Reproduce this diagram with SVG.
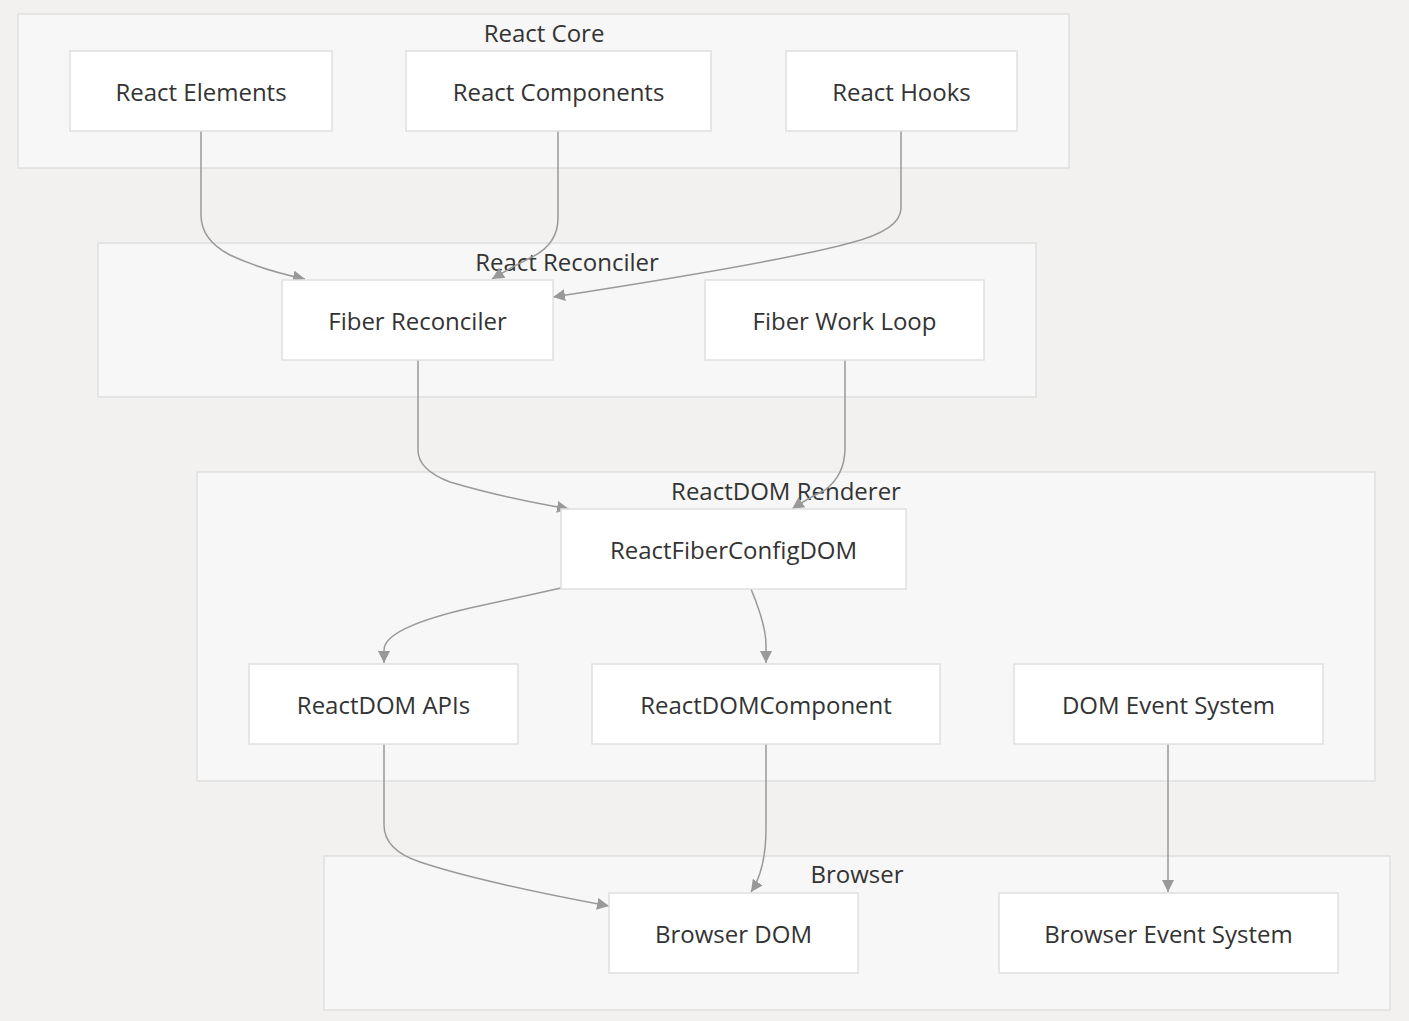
<svg xmlns="http://www.w3.org/2000/svg" width="1409" height="1021" viewBox="0 0 1409 1021">
<style>
.bg{fill:#f2f1f0}
.cl{fill:#f7f7f7;stroke:#e0e0e0;stroke-width:1.5}
.nd{fill:#ffffff;stroke:#e0e0e0;stroke-width:1.5}
text{font-family:"Open Sans","Noto Sans","Liberation Sans",sans-serif;fill:#333;font-size:24px;text-anchor:middle;dominant-baseline:central}
.ed{fill:none;stroke:#999;stroke-width:1.5;marker-end:url(#ah)}
</style>
<defs>
<marker id="ah" markerUnits="userSpaceOnUse" markerWidth="14" markerHeight="12" refX="12" refY="6" orient="auto">
<path d="M0,0 L12,6 L0,12 z" fill="#999"/>
</marker>
</defs>
<rect class="bg" x="0" y="0" width="1409" height="1021"/>
<g id="cluster-react-core"><rect class="cl" x="18" y="14" width="1051" height="154"/><text x="544" y="32">React Core</text></g>
<g id="cluster-react-reconciler"><rect class="cl" x="98" y="243" width="938" height="154"/><text x="567" y="261">React Reconciler</text></g>
<g id="cluster-reactdom-renderer"><rect class="cl" x="197" y="472" width="1178" height="309"/><text x="786" y="490">ReactDOM Renderer</text></g>
<g id="cluster-browser"><rect class="cl" x="324" y="856" width="1066" height="154"/><text x="857" y="873">Browser</text></g>
<g id="edges">
<path class="ed" d="M201,131 L201,215 Q201,240 230,255 Q262,270 305,279"/>
<path class="ed" d="M558,131 L558,218 Q558,245 530,258 Q510,268 492,279"/>
<path class="ed" d="M901,131 L901,208 Q901,230 850,243 Q780,262 553,297"/>
<path class="ed" d="M418,360 L418,450 Q418,470 450,482 Q500,497 569,509"/>
<path class="ed" d="M845,360 L845,448 Q845,475 825,490 Q805,500 792,509"/>
<path class="ed" d="M561,588 L470,608 Q384,628 384,650 L384,663"/>
<path class="ed" d="M751,589 Q766,625 766,645 L766,663"/>
<path class="ed" d="M384,744 L384,825 Q384,850 420,862 Q480,882 609,906"/>
<path class="ed" d="M766,744 L766,828 Q766,870 751,892"/>
<path class="ed" d="M1168,744 L1168,892"/>
</g>
<g id="node-react-elements"><rect class="nd" x="70" y="51" width="262" height="80"/><text x="201" y="91">React Elements</text></g>
<g id="node-react-components"><rect class="nd" x="406" y="51" width="305" height="80"/><text x="558.5" y="91">React Components</text></g>
<g id="node-react-hooks"><rect class="nd" x="786" y="51" width="231" height="80"/><text x="901.5" y="91">React Hooks</text></g>
<g id="node-fiber-reconciler"><rect class="nd" x="282" y="280" width="271" height="80"/><text x="417.5" y="320">Fiber Reconciler</text></g>
<g id="node-fiber-work-loop"><rect class="nd" x="705" y="280" width="279" height="80"/><text x="844.5" y="320">Fiber Work Loop</text></g>
<g id="node-reactfiberconfigdom"><rect class="nd" x="561" y="509" width="345" height="80"/><text x="733.5" y="549">ReactFiberConfigDOM</text></g>
<g id="node-reactdom-apis"><rect class="nd" x="249" y="664" width="269" height="80"/><text x="383.5" y="704">ReactDOM APIs</text></g>
<g id="node-reactdomcomponent"><rect class="nd" x="592" y="664" width="348" height="80"/><text x="766" y="704">ReactDOMComponent</text></g>
<g id="node-dom-event-system"><rect class="nd" x="1014" y="664" width="309" height="80"/><text x="1168.5" y="704">DOM Event System</text></g>
<g id="node-browser-dom"><rect class="nd" x="609" y="893" width="249" height="80"/><text x="733.5" y="933">Browser DOM</text></g>
<g id="node-browser-event-system"><rect class="nd" x="999" y="893" width="339" height="80"/><text x="1168.5" y="933">Browser Event System</text></g>
</svg>
